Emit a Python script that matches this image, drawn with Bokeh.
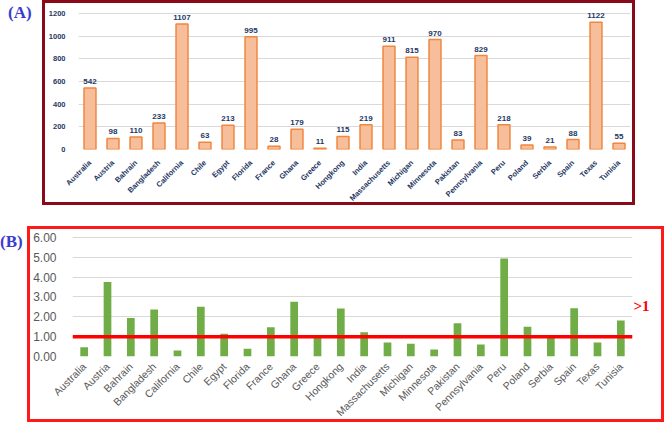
import math
from bokeh.plotting import figure
from bokeh.models import (Div, Span, FixedTicker, Spacer, NumeralTickFormatter,
                          LinearAxis, Range1d)
from bokeh.layouts import column, row
from bokeh.core.properties import value
from bokeh.embed import file_html
from bokeh.resources import INLINE

regions = ["Australia", "Austria", "Bahrain", "Bangladesh", "California", "Chile",
           "Egypt", "Florida", "France", "Ghana", "Greece", "Hongkong", "India",
           "Massachusetts", "Michigan", "Minnesota", "Pakistan", "Pennsylvania",
           "Peru", "Poland", "Serbia", "Spain", "Texas", "Tunisia"]
cases = [542, 98, 110, 233, 1107, 63, 213, 995, 28, 179, 11, 115, 219,
         911, 815, 970, 83, 829, 218, 39, 21, 88, 1122, 55]
ratios = [0.46, 3.75, 1.94, 2.36, 0.30, 2.50, 1.15, 0.39, 1.47, 2.75, 0.98, 2.42, 1.22,
          0.71, 0.64, 0.35, 1.67, 0.61, 4.93, 1.50, 0.95, 2.43, 0.71, 1.81]
ticks_a = [0, 200, 400, 600, 800, 1000, 1200]
ticks_b = [0, 1, 2, 3, 4, 5, 6]
threshold = 1
threshold_label = ">1"

NAVY = "#1F3864"
GRID = "#D9D9D9"
SANS = "Liberation Sans"

# ---------- Panel A ----------
pa = figure(x_range=regions, y_range=(0, 1262), width=593, height=205,
            output_backend="svg", toolbar_location=None,
            min_border_left=27, min_border_right=8, min_border_top=3, min_border_bottom=54,
            styles={"border": "3px solid #8B0A1A", "box-sizing": "border-box"})
pa.vbar(x=regions, top=cases, width=0.52, fill_color="#F7BE9C",
        line_color="#F0873F", line_width=1.5)
pa.text(x=regions, y=cases, text=[str(v) for v in cases], y_offset=-4,
        text_align="center", text_baseline="bottom",
        text_font=value(SANS), text_font_style="bold",
        text_font_size="8px", text_color=NAVY)
pa.outline_line_color = None
pa.xgrid.grid_line_color = None
pa.ygrid.grid_line_color = GRID
pa.yaxis.ticker = FixedTicker(ticks=ticks_a)
pa.ygrid.ticker = FixedTicker(ticks=ticks_a)
for ax in (pa.xaxis[0], pa.yaxis[0]):
    ax.axis_line_color = None
    ax.major_tick_line_color = None
    ax.minor_tick_line_color = None
    ax.major_label_text_font = SANS
    ax.major_label_text_font_style = "bold"
    ax.major_label_text_color = NAVY
pa.yaxis.major_label_text_font_size = "7.5px"
pa.xaxis.major_label_text_font_size = "7.5px"
pa.xaxis.major_label_orientation = math.pi / 4
pa.xaxis.major_label_standoff = 6
pa.yaxis.major_label_standoff = 7

# ---------- Panel B ----------
pb = figure(x_range=regions, y_range=(0, 6.24), width=637, height=196,
            output_backend="svg", toolbar_location=None,
            min_border_left=37, min_border_right=35, min_border_top=3, min_border_bottom=63,
            styles={"border": "3px solid #FF1A1A", "box-sizing": "border-box"})
pb.vbar(x=regions, top=ratios, width=0.33, fill_color="#70AD47", line_color=None)
pb.outline_line_color = None
pb.xgrid.grid_line_color = None
pb.ygrid.grid_line_color = GRID
pb.yaxis.ticker = FixedTicker(ticks=ticks_b)
pb.ygrid.ticker = FixedTicker(ticks=ticks_b)
pb.yaxis.formatter = NumeralTickFormatter(format="0.00")
for ax in (pb.xaxis[0], pb.yaxis[0]):
    ax.axis_line_color = None
    ax.major_tick_line_color = None
    ax.minor_tick_line_color = None
    ax.major_label_text_font = SANS
    ax.major_label_text_color = "#595959"
pb.yaxis.major_label_text_font_size = "12px"
pb.xaxis.major_label_text_font_size = "10.5px"
pb.xaxis.major_label_orientation = math.pi / 4
pb.xaxis.major_label_standoff = 2
pb.yaxis.major_label_standoff = 10
pb.add_layout(Span(location=threshold, dimension="width", line_color="#FF0000", line_width=3.5))

# ">1" marker drawn as a right-side axis label (outside the frame)
pb.extra_y_ranges = {"lab": Range1d(0, 624)}
rax = LinearAxis(y_range_name="lab", ticker=FixedTicker(ticks=[253], minor_ticks=[]),
                 major_label_overrides={253: threshold_label})
rax.axis_line_color = None
rax.major_tick_line_color = None
rax.minor_tick_line_color = None
rax.major_tick_in = 0
rax.major_tick_out = 0
rax.major_label_standoff = 1
rax.major_label_text_color = "#FF0000"
rax.major_label_text_font = "Liberation Serif"
rax.major_label_text_font_style = "bold"
rax.major_label_text_font_size = "15px"
pb.add_layout(rax, "right")

label_style = {"font-family": "Liberation Serif", "font-weight": "bold",
               "font-size": "17px", "color": "#3B3BD1"}
div_a = Div(text='<span style="position:relative;left:3px;top:-4px">(A)</span>',
            width=32, height=30, styles=label_style)
div_b = Div(text='<span style="position:relative;left:-5px;top:-1px">(B)</span>',
            width=17, height=30, styles=label_style)

layout = column(row(div_a, pa), Spacer(height=21), row(div_b, pb))
open("out.html", "w").write(file_html(layout, INLINE))
